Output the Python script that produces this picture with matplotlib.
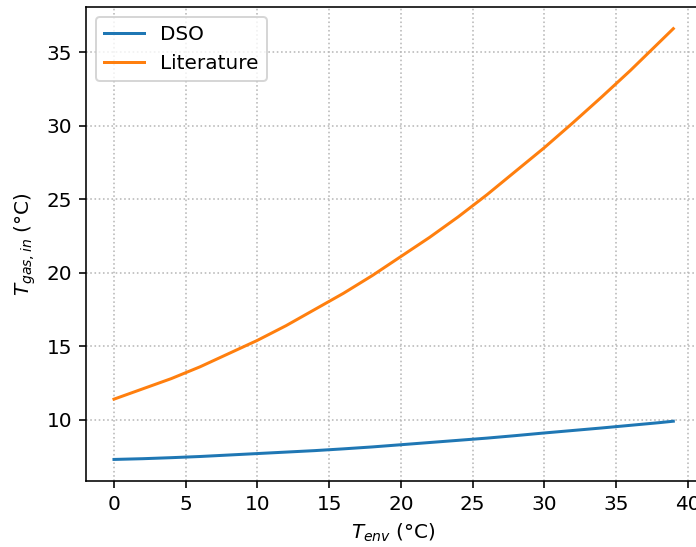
import matplotlib
matplotlib.use('Agg')
import matplotlib.pyplot as plt

# environment temperature (degC) and resulting inlet gas temperature
t_env = [0, 2, 4, 6, 8, 10, 12, 14, 16, 18, 20, 22, 24, 26, 28, 30, 32, 34, 36, 38, 39]
t_dso = [7.3, 7.35, 7.42, 7.5, 7.6, 7.7, 7.8, 7.9, 8.02, 8.15, 8.3,
         8.45, 8.6, 8.75, 8.92, 9.1, 9.27, 9.44, 9.62, 9.8, 9.9]
t_lit = [11.4, 12.1, 12.8, 13.6, 14.5, 15.4, 16.4, 17.5, 18.6, 19.8, 21.1,
         22.4, 23.8, 25.3, 26.9, 28.5, 30.2, 31.95, 33.75, 35.65, 36.6]

dpi = 144
fig = plt.figure(figsize=(696 / dpi, 547 / dpi), dpi=dpi)
ax = fig.add_axes([0.1236, 0.1207, 0.884, 0.8663])

ax.plot(t_env, t_dso, color='#1f77b4', lw=1.5, label='DSO')
ax.plot(t_env, t_lit, color='#ff7f0e', lw=1.5, label='Literature')

ax.set_xticks(range(0, 45, 5))
ax.set_yticks(range(10, 40, 5))
ax.grid(True, linestyle=':', color='#b8b8b8', lw=0.8)
ax.set_xlabel(r'$T_{env}$ (°C)')
ax.set_ylabel(r'$T_{gas,in}$ (°C)')
ax.legend(loc='upper left')

fig.savefig('out.png', dpi=dpi)
